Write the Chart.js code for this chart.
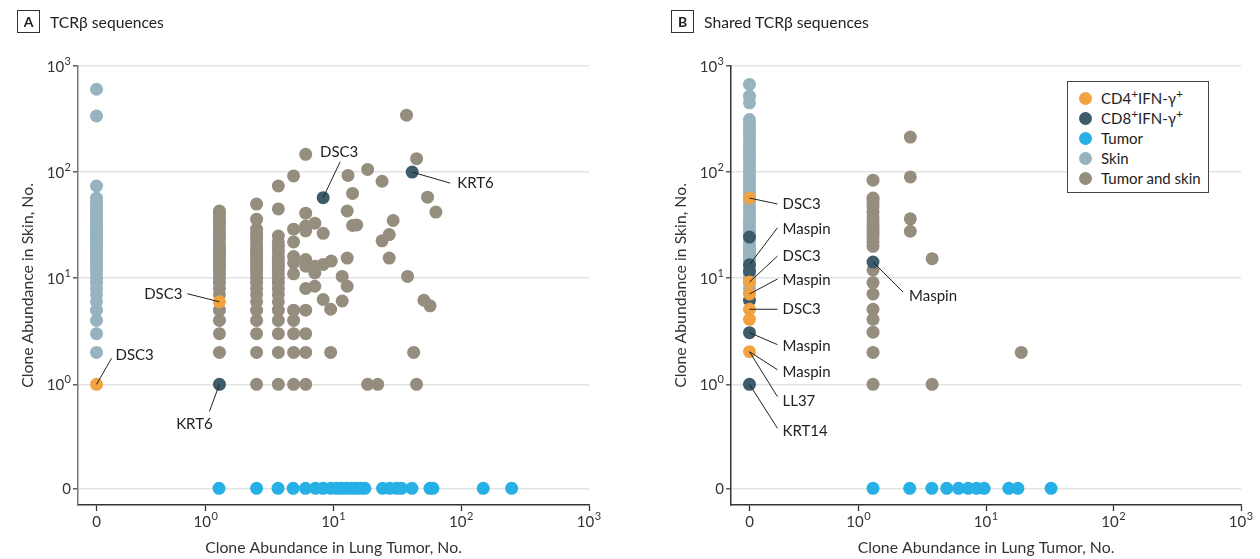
<!DOCTYPE html>
<html>
<head>
<meta charset="utf-8">
<script src="https://cdn.jsdelivr.net/npm/chart.js@4.4.1/dist/chart.umd.min.js"></script>
<style>
  body { margin: 0; background: #fff; font-family: Lato, "Noto Sans", sans-serif; color: #222; }
  #wrap { position: relative; width: 1260px; height: 559px; overflow: hidden; }
  #wrap canvas { position: absolute; top: 0; }
  .head { position: absolute; top: 10px; display: flex; align-items: center; font-size: 15.7px; }
  .tag { box-sizing: border-box; width: 23px; height: 23px; border: 1.3px solid #333; display: flex;
         align-items: center; justify-content: center; font-weight: bold; font-size: 14px; margin-right: 10px; }
  #legend { position: absolute; left: 1067px; top: 81px; width: 142px; height: 112px; box-sizing: border-box;
            border: 1.3px solid #444; background: #fff; padding-top: 6px; font-size: 15px; }
  #legend div { height: 20px; display: flex; align-items: center; }
  #legend span.dot { width: 13px; height: 13px; border-radius: 50%; margin: 0 9px 0 11px; }
  #legend sup { font-size: 12px; position: relative; top: -4px; line-height: 0; vertical-align: baseline; }
</style>
</head>
<body>
<div id="wrap">
  <canvas id="chartA" width="630" height="559" style="left:0"></canvas>
  <canvas id="chartB" width="630" height="559" style="left:630px"></canvas>
  <div class="head" style="left:17px"><span class="tag">A</span>TCRβ sequences</div>
  <div class="head" style="left:671px"><span class="tag">B</span>Shared TCRβ sequences</div>
  <div id="legend"></div>
</div>
<script>
// Clone abundance; 0 = clone not found in that tissue

// A: all TCRb sequences
const aSkinOnlyY = [2, 3, 4, 5, 6, 7, 8, 9, 10, 11, 12, 13, 14, 15, 16, 17, 18, 19, 20, 21, 22, 23, 24, 25, 26,
  27, 28, 29, 30, 32, 34, 36, 38, 41, 44, 48, 52, 57, 74, 338, 604];
const aTumorOnlyX = [1.27, 2.5, 3.68, 4.83, 6.04, 7.23, 8.3, 9.53, 10.6, 11.6, 12.6, 13.8, 15.0, 16.3, 17.6,
  24.2, 27.6, 31.2, 34.1, 41.1, 56.9, 60.0, 148.6, 248];
// shared clones stacked in columns at low tumor counts
const aColX = [1.28, 2.5, 3.7, 4.87, 6.06];
const aColY = [
  [2, 3, 4, 5, 7, 8, 9, 10, 11, 12, 13, 14, 15, 16, 17, 18, 19, 20, 22, 24, 26, 28, 30, 33, 36, 40, 43],
  [1, 2, 3, 4, 5, 6, 7, 8, 9, 10, 11, 12, 13, 14, 15, 16, 17, 18, 19, 20, 22, 24, 26, 29, 36, 50],
  [1, 2, 3, 4, 5, 6, 7, 8, 9, 10, 11, 12, 13, 14, 15, 16, 18, 20, 22, 25, 45, 74],
  [1, 2, 3, 4, 5, 11, 14, 16, 22, 29, 92],
  [1, 2, 3, 5, 8, 13, 15, 28, 31, 41, 147]
];
// remaining shared clones
const aLooseX = [7.14, 7.14, 7.14, 7.14, 8.3, 8.3, 8.3, 9.5, 9.5, 9.6, 11.7, 11.7, 12.8, 12.8, 12.8, 13.0,
  14.1, 15.2, 14.1, 18.5, 22.2, 18.5, 24.0, 24.0, 27.3, 27.3, 29.3, 37.3, 38.0, 42.4, 44.7, 44.7, 51, 57, 54.5, 63.3];
const aLooseY = [8.4, 11.2, 13, 33, 6.3, 13.5, 26.5, 2, 5.1, 14.5, 6.1, 10.4, 8.4, 15.5, 43, 93,
  31.4, 31.8, 63, 1, 1, 106, 82, 22.5, 25.8, 15.5, 35, 344, 10.4, 2, 1, 134, 6.2, 5.5, 58, 42];
const aCd4X = [0, 1.28];
const aCd4Y = [1, 6];
const aCd8X = [1.28, 8.3, 41.3];
const aCd8Y = [1, 57.4, 100];
const aNoteText = ['DSC3', 'DSC3', 'KRT6', 'DSC3', 'KRT6'];
const aNoteX = [0, 1.28, 1.28, 8.3, 41.3];
const aNoteY = [1, 6, 1, 57.4, 100];

// B: shared TCRb sequences
const bSkinOnlyY = [8, 9, 10, 11, 12, 13, 14, 15, 16, 17, 18, 19, 20, 22, 24, 26, 28, 30, 33, 36, 40, 44, 48,
  53, 58, 64, 70, 77, 85, 93, 102, 112, 123, 135, 148, 163, 179, 197, 217, 238, 262, 288, 313, 450, 520, 670];
const bTumorOnlyX = [1.3, 2.52, 3.76, 4.92, 6.09, 7.25, 8.45, 9.67, 15.1, 17.8, 32.4];
const bSharedX = [1.3, 1.3, 1.3, 1.3, 1.3, 1.3, 1.3, 1.3, 1.3, 1.3, 1.3, 1.3, 1.3, 1.3, 1.3, 1.3, 1.3, 1.3,
  1.3, 1.3, 1.3, 1.3, 1.3, 2.55, 2.55, 2.55, 2.55, 3.78, 3.78, 18.9];
const bSharedY = [84, 57, 55, 50, 47, 42, 38, 35, 32, 30, 28, 26, 24, 22, 20, 12, 9.1, 7.1, 5.1, 4.1, 3.1,
  2, 1, 214, 90, 36.3, 27.7, 15.3, 1, 2];
const bCd4X = [0, 0, 0, 0, 0, 0];
const bCd4Y = [57, 9.2, 7.1, 5.1, 4.1, 2.03];
const bCd8X = [0, 0, 0, 0, 0, 0, 1.3];
const bCd8Y = [24.4, 13.4, 11.6, 6.2, 3.07, 1, 14.2];
const bNoteText = ['DSC3', 'Maspin', 'DSC3', 'Maspin', 'DSC3', 'Maspin', 'Maspin', 'LL37', 'KRT14', 'Maspin'];
const bNoteX = [0, 0, 0, 0, 0, 0, 0, 0, 0, 1.3];
const bNoteY = [57, 13.4, 9.2, 7.1, 5.1, 3.07, 2.03, 2.03, 1, 14.2];

const groupNames = ['CD4⁺IFN-γ⁺', 'CD8⁺IFN-γ⁺', 'Tumor', 'Skin', 'Tumor and skin'];
const groupColors = ['#F2A23F', '#3C5C6B', '#27B0E6', '#97B3C0', '#958E7F'];

// label placement next to each annotated point: [dx, dy, align, lineDx, lineDy] in pixels
const aNotePlace = [[19, -29, 'left', 15, -26], [-37, -8, 'right', -32, -8], [-25, 40, 'center', -10, 27],
  [16, -46, 'center', 17, -36], [45, 11, 'left', 38, 11]];
const bNotePlace = [[33, 6, 'left', 28, 6], [33, -36, 'left', 28, -37], [33, -26, 'left', 28, -26],
  [33, -14, 'left', 28, -15], [33, 0, 'left', 28, 0], [33, 14, 'left', 28, 12], [33, 20, 'left', 28, 18],
  [33, 49, 'left', 28, 45], [33, 47, 'left', 28, 44], [36, 34, 'left', 30, 30]];

// broken log axes: zero sits just left of / below 10^0
const X_ZERO = -0.855;
const Y_ZERO = -0.98;
const tx = v => v === 0 ? X_ZERO : Math.log10(v);
const ty = v => v === 0 ? Y_ZERO : Math.log10(v);
const FONT = 'Lato, "Noto Sans", sans-serif';

Chart.defaults.font.family = FONT;
Chart.defaults.font.size = 15.8;
Chart.defaults.color = '#333';

function pts(xs, ys) {
  return xs.map((x, i) => ({x: tx(x), y: ty(ys[i])}));
}
function dataset(i, data, order) {
  return {label: groupNames[i], data: data, backgroundColor: groupColors[i], borderWidth: 0,
    pointRadius: 6.5, pointHoverRadius: 6.5, order: order};
}

const notesPlugin = {
  id: 'notes',
  afterDatasetsDraw(chart, args, opts) {
    const {ctx, scales: {x, y}} = chart;
    ctx.save();
    ctx.font = '15px ' + FONT;
    ctx.fillStyle = '#222';
    ctx.strokeStyle = '#222';
    ctx.lineWidth = 1;
    ctx.textBaseline = 'middle';
    opts.text.forEach((t, i) => {
      const p = opts.place[i];
      const px = x.getPixelForValue(tx(opts.xs[i]));
      const py = y.getPixelForValue(ty(opts.ys[i]));
      ctx.beginPath();
      ctx.moveTo(px, py);
      ctx.lineTo(px + p[3], py + p[4]);
      ctx.stroke();
      ctx.textAlign = p[2];
      ctx.fillText(t, px + p[0], py + p[1]);
    });
    ctx.restore();
  }
};

// tick labels as 10 with a raised exponent (canvas has no real superscript)
const powerTicks = {
  id: 'powerTicks',
  afterDraw(chart) {
    const ctx = chart.ctx;
    ctx.save();
    ctx.fillStyle = '#333';
    ctx.textBaseline = 'middle';
    ctx.textAlign = 'left';
    ['x', 'y'].forEach(id => {
      const s = chart.scales[id];
      const zero = id === 'x' ? X_ZERO : Y_ZERO;
      s.ticks.forEach(t => {
        const base = t.value === zero ? '0' : '10';
        const exp = t.value === zero ? '' : String(Math.round(t.value));
        ctx.font = '15px ' + FONT;
        const wb = ctx.measureText(base).width;
        ctx.font = '11px ' + FONT;
        const we = exp ? ctx.measureText(exp).width + 0.5 : 0;
        const p = s.getPixelForValue(t.value);
        let left, mid;
        if (id === 'x') {
          left = p - (wb + we) / 2;
          mid = s.top + 17;
        } else {
          left = s.right - 7 - (wb + we);
          mid = p + 1;
        }
        ctx.font = '15px ' + FONT;
        ctx.fillText(base, left, mid);
        if (exp) {
          ctx.font = '11px ' + FONT;
          ctx.fillText(exp, left + wb + 0.5, mid - 6);
        }
      });
    });
    ctx.restore();
  }
};

function makeChart(id, datasets, pad, yAxisColor, notes) {
  new Chart(document.getElementById(id), {
    type: 'scatter',
    data: {datasets: datasets},
    plugins: [notesPlugin, powerTicks],
    options: {
      responsive: false,
      animation: false,
      layout: {padding: pad},
      scales: {
        x: {
          min: -1, max: 3,
          afterBuildTicks: s => { s.ticks = [X_ZERO, 0, 1, 2, 3].map(v => ({value: v})); },
          afterFit: s => { s.height = 52; },
          ticks: {display: false, autoSkip: false},
          grid: {drawOnChartArea: false, tickLength: 6, tickColor: '#333', tickWidth: 1.3},
          border: {color: '#333', width: 1.5},
          title: {display: true, text: 'Clone Abundance in Lung Tumor, No.', padding: {top: 0, bottom: 0}}
        },
        y: {
          min: -1.137, max: 3,
          afterBuildTicks: s => { s.ticks = [Y_ZERO, 0, 1, 2, 3].map(v => ({value: v})); },
          afterFit: s => { s.width = 78; },
          ticks: {display: false, autoSkip: false},
          grid: {color: '#e3e3e3', lineWidth: 1.6, tickLength: 5, tickColor: '#444', tickWidth: 1.3},
          border: {color: yAxisColor, width: 1.5},
          title: {display: true, text: 'Clone Abundance in Skin, No.', padding: {top: 18, bottom: 0}}
        }
      },
      plugins: {
        legend: {display: false},
        tooltip: {enabled: false},
        notes: notes
      }
    }
  });
}

const aShared = aColX.flatMap((x, i) => pts(aColY[i].map(() => x), aColY[i])).concat(pts(aLooseX, aLooseY));
makeChart('chartA', [
  dataset(0, pts(aCd4X, aCd4Y), 0),
  dataset(1, pts(aCd8X, aCd8Y), 0),
  dataset(2, pts(aTumorOnlyX, aTumorOnlyX.map(() => 0)), 1),
  dataset(3, pts(aSkinOnlyY.map(() => 0), aSkinOnlyY), 1),
  dataset(4, aShared, 2)
], {left: 0, top: 66, right: 41, bottom: 2}, '#777',
  {text: aNoteText, xs: aNoteX, ys: aNoteY, place: aNotePlace});

makeChart('chartB', [
  dataset(0, pts(bCd4X, bCd4Y), 0),
  dataset(1, pts(bCd8X, bCd8Y), 0),
  dataset(2, pts(bTumorOnlyX, bTumorOnlyX.map(() => 0)), 1),
  dataset(3, pts(bSkinOnlyY.map(() => 0), bSkinOnlyY), 1),
  dataset(4, pts(bSharedX, bSharedY), 2)
], {left: 23, top: 66, right: 19, bottom: 2}, '#333',
  {text: bNoteText, xs: bNoteX, ys: bNoteY, place: bNotePlace});

// legend box inside panel B
const legend = document.getElementById('legend');
groupNames.forEach((name, i) => {
  const row = document.createElement('div');
  row.innerHTML = '<span class="dot" style="background:' + groupColors[i] + '"></span>' +
    name.replace(/⁺/g, '<sup>+</sup>');
  legend.appendChild(row);
});
</script>
</body>
</html>
